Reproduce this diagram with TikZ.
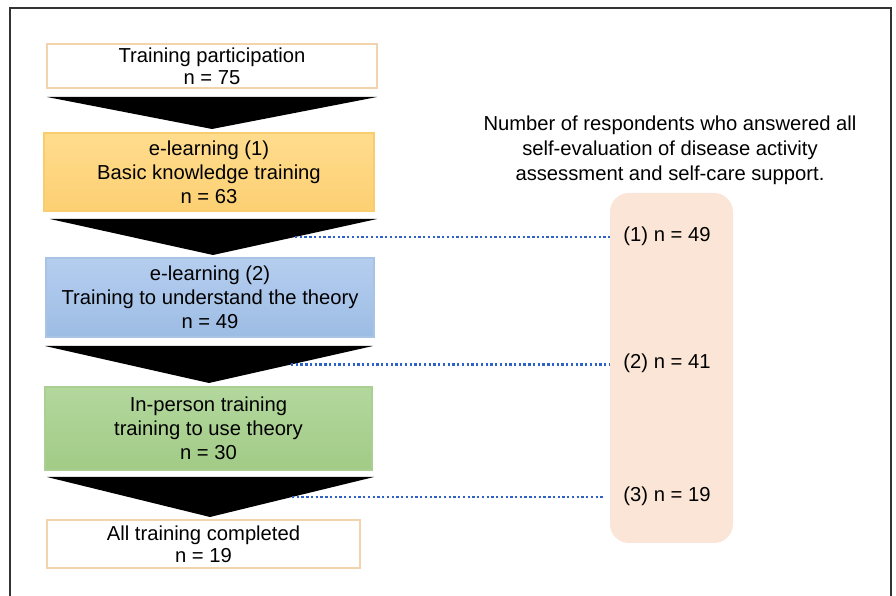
\documentclass[tikz,border=0pt]{standalone}
\usepackage{fontspec}
\setmainfont{Liberation Sans}
\usepackage{xcolor}
\usetikzlibrary{calc}

\definecolor{tanline}{HTML}{F2D3AE}
\definecolor{goldtop}{HTML}{FFDC8E}
\definecolor{goldbot}{HTML}{FCD072}
\definecolor{goldline}{HTML}{F7CD70}
\definecolor{bluetop}{HTML}{B5CEEF}
\definecolor{bluebot}{HTML}{9DBCE4}
\definecolor{blueline}{HTML}{A8C3E4}
\definecolor{greentop}{HTML}{B3D79D}
\definecolor{greenbot}{HTML}{A2CB86}
\definecolor{greenline}{HTML}{AACF92}
\definecolor{peach}{HTML}{FBE5D6}
\definecolor{dotblue}{HTML}{2F62C8}
\definecolor{frame}{HTML}{333333}

\begin{document}
\begin{tikzpicture}[font=\fontsize{11.5}{13.6}\selectfont,line join=miter,
  stage/.style={rectangle,align=center,inner sep=0pt,line width=0.6pt},
  plainbox/.style={stage,draw=tanline,fill=white,font=\fontsize{11.5}{12.6}\selectfont},
  goldbox/.style={stage,draw=goldline,top color=goldtop,bottom color=goldbot},
  bluebox/.style={stage,draw=blueline,top color=bluetop,bottom color=bluebot},
  greenbox/.style={stage,draw=greenline,top color=greentop,bottom color=greenbot},
  chev/.style={fill=black},
  link/.style={draw=dotblue,line width=1.3pt,dash pattern=on 1.3pt off 1.4pt}]
\useasboundingbox (0,0) rectangle (17.92,11.92);
% outer frame, open at the bottom
\draw[frame,line width=0.8pt] (0.2,0) -- (0.2,11.76) -- (17.82,11.76) -- (17.82,0);

% left column: stages
\node[plainbox,minimum width=6.6cm,minimum height=0.88cm] (part) at (4.24,10.6) {Training participation\\n = 75};
\node[goldbox,minimum width=6.6cm,minimum height=1.56cm] (el1) at (4.18,8.48) {e-learning (1)\\Basic knowledge training\\n = 63};
\node[bluebox,minimum width=6.56cm,minimum height=1.58cm] (el2) at (4.2,5.97) {e-learning (2)\\Training to understand the theory\\n = 49};
\node[greenbox,minimum width=6.54cm,minimum height=1.66cm] (inp) at (4.17,3.35) {In-person training\\training to use theory\\n = 30};
\node[plainbox,minimum width=6.26cm,minimum height=0.96cm] (done) at (4.07,1.04) {All training completed\\n = 19};

% chevrons between the stages
\fill[chev] (0.94,9.98) -- (7.54,9.98) -- (4.24,9.34) -- cycle;
\fill[chev] (1.0,7.54) -- (7.54,7.54) -- coordinate[pos=0.5] (m1) (4.26,6.82) -- cycle;
\fill[chev] (0.9,5.0) -- (7.46,5.0) -- coordinate[pos=0.5] (m2) (4.18,4.26) -- cycle;
\fill[chev] (0.94,2.38) -- (7.48,2.38) -- coordinate[pos=0.5] (m3) (4.2,1.58) -- cycle;

% right column: respondents
\node[align=center,font=\fontsize{11.5}{14.2}\selectfont] (head) at (13.4,8.92)
  {Number of respondents who answered all\\self-evaluation of disease activity\\assessment and self-care support.};
\node[fill=peach,rounded corners=0.38cm,minimum width=2.46cm,minimum height=7.0cm,inner sep=0pt] (resp) at (13.43,4.56) {};
\node (r1) at (13.34,7.2) {(1) n = 49};
\node (r2) at (13.34,4.66) {(2) n = 41};
\node (r3) at (13.34,1.99) {(3) n = 19};

% dotted links
\draw[link] (m1) -- (m1 -| resp.west);
\draw[link] (m2) -- (m2 -| resp.west);
\draw[link] (m3) -- ($(m3 -| resp.west)+(-0.1,0)$);
\end{tikzpicture}
\end{document}
